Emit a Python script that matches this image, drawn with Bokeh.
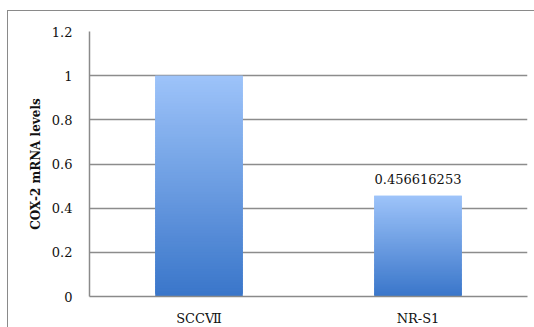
from bokeh.plotting import figure
from bokeh.models import FactorRange, Range1d, FixedTicker, ColumnDataSource
from bokeh.core.properties import value
from bokeh.embed import file_html
from bokeh.resources import INLINE

categories = ["SCCⅦ", "NR-S1"]
values = [1.0, 0.456616253]
data_labels = ["", "0.456616253"]
y_ticks = [0, 0.2, 0.4, 0.6, 0.8, 1.0, 1.2]
y_tick_labels = ["0", "0.2", "0.4", "0.6", "0.8", "1", "1.2"]
y_title = "COX-2 mRNA levels"

FONT = "DejaVu Serif"

p = figure(width=527, height=317, output_backend="svg", toolbar_location=None,
           x_range=FactorRange(*categories, range_padding=0),
           y_range=Range1d(0, 1.2))
p.margin = (10, 0, 0, 7)
p.styles = {"border-left": "1px solid #8a8a8a", "border-top": "1px solid #8a8a8a",
            "box-sizing": "border-box"}
p.min_border_left = 81
p.min_border_right = 8
p.min_border_top = 20
p.min_border_bottom = 31
p.outline_line_color = None
p.background_fill_color = "white"
p.border_fill_color = "white"

# gradient bars, built from overlapping slices of each value
N = 80
top_rgb = (158, 196, 250)
bot_rgb = (58, 118, 202)
xs, bottoms, tops, cols = [], [], [], []
for c, v in zip(categories, values):
    for i in range(N):
        t = (i + 0.5) / N
        r = int(bot_rgb[0] + (top_rgb[0] - bot_rgb[0]) * t)
        g = int(bot_rgb[1] + (top_rgb[1] - bot_rgb[1]) * t)
        b = int(bot_rgb[2] + (top_rgb[2] - bot_rgb[2]) * t)
        xs.append(c)
        bottoms.append(v * i / N)
        tops.append(min(v, v * (i + 2) / N))
        cols.append("#%02x%02x%02x" % (r, g, b))
src = ColumnDataSource(dict(x=xs, bottom=bottoms, top=tops, color=cols))
p.vbar(x="x", bottom="bottom", top="top", width=0.4, fill_color="color",
       line_color=None, source=src)

lab = ColumnDataSource(dict(x=categories, y=values, text=data_labels))
p.text(x="x", y="y", text="text", source=lab, text_align="center",
       text_baseline="bottom", y_offset=-12, text_font=value(FONT),
       text_font_size="13px", text_color="#111111")

# axes
p.yaxis.ticker = FixedTicker(ticks=y_ticks)
p.yaxis.major_label_overrides = {t: l for t, l in zip(y_ticks, y_tick_labels)}
p.yaxis.major_label_text_font = FONT
p.yaxis.major_label_text_font_size = "13px"
p.yaxis.major_label_text_color = "#111111"
p.yaxis.major_label_standoff = 11
p.yaxis.major_tick_line_color = None
p.yaxis.minor_tick_line_color = None
p.yaxis.axis_line_color = "#8a8a8a"
p.yaxis.axis_line_width = 1.5
p.yaxis.axis_label = y_title
p.yaxis.axis_label_text_font = FONT
p.yaxis.axis_label_text_font_style = "bold"
p.yaxis.axis_label_text_font_size = "12px"
p.yaxis.axis_label_text_color = "#111111"
p.yaxis.axis_label_standoff = 6

p.xaxis.major_label_text_font = FONT
p.xaxis.major_label_text_font_size = "13px"
p.xaxis.major_label_text_color = "#111111"
p.xaxis.major_label_standoff = 8
p.xaxis.major_tick_line_color = None
p.xaxis.minor_tick_line_color = None
p.xaxis.axis_line_color = "#8a8a8a"
p.xaxis.axis_line_width = 1.5

p.xgrid.grid_line_color = None
p.ygrid.grid_line_color = "#8c8c8c"
p.ygrid.grid_line_width = 1.5
p.ygrid.ticker = FixedTicker(ticks=y_ticks)

open("out.html", "w").write(file_html(p, INLINE))
